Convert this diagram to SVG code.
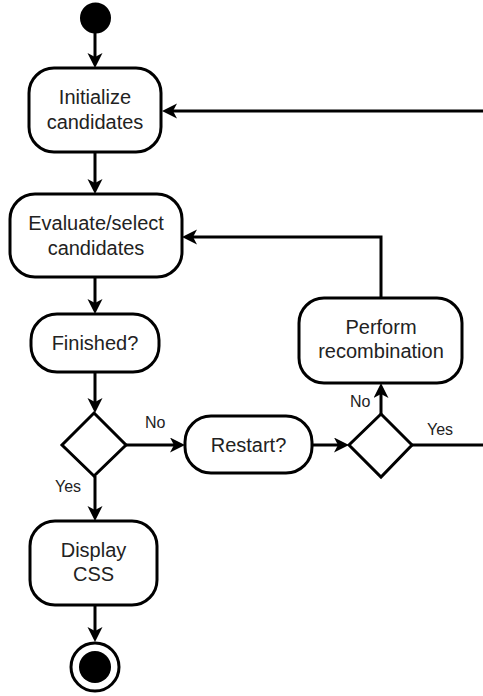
<svg xmlns="http://www.w3.org/2000/svg" width="483" height="696" viewBox="0 0 483 696">
<style>
.node{fill:#fff;stroke:#000;stroke-width:3}
.t{font-family:"Liberation Sans",Arial,sans-serif;font-size:20px;fill:#222;text-anchor:middle}
.lbl{font-family:"Liberation Sans",Arial,sans-serif;font-size:16px;fill:#222}
.edge{fill:none;stroke:#000;stroke-width:3}
.arr{marker-end:url(#ah)}
</style>
<defs>
<marker id="ah" markerUnits="userSpaceOnUse" viewBox="0 0 16 16" markerWidth="16" markerHeight="16" refX="11" refY="7.5" orient="auto">
<path d="M0,0 L15,7.5 L0,15 L4,7.5 z" fill="#000"/>
</marker>
</defs>
<rect width="483" height="696" fill="#fff"/>
<g id="connectors">
<path class="edge arr" d="M95,33 L95,64"/>
<path class="edge arr" d="M95,152 L95,190"/>
<path class="edge arr" d="M95,277 L95,310"/>
<path class="edge arr" d="M95,372 L95,409"/>
<path class="edge arr" d="M126,445 L181,445"/>
<path class="edge arr" d="M312,445 L345,445"/>
<path class="edge arr" d="M381,414 L381,387"/>
<path class="edge arr" d="M381,298 L381,237 L186,237"/>
<path class="edge" d="M412,445 L483,445"/>
<path class="edge arr" d="M483,111 L166,111"/>
<path class="edge arr" d="M95,476 L95,517"/>
<path class="edge arr" d="M95,605 L95,638"/>
</g>
<g id="start"><circle cx="95.5" cy="18" r="15.5" fill="#000"/></g>
<g id="init">
<rect class="node" x="29" y="68" width="132" height="84" rx="25"/>
<text class="t" x="95" y="104">Initialize</text>
<text class="t" x="95" y="129">candidates</text>
</g>
<g id="evaluate">
<rect class="node" x="10" y="194" width="172" height="83" rx="25"/>
<text class="t" x="96" y="230">Evaluate/select</text>
<text class="t" x="96" y="254.5">candidates</text>
</g>
<g id="finished">
<rect class="node" x="31" y="314" width="128" height="58" rx="26"/>
<text class="t" x="95" y="349.5">Finished?</text>
</g>
<g id="decision1"><path class="node" d="M94,413 L126,445 L94,476 L62,445 Z"/></g>
<g id="restart">
<rect class="node" x="185" y="416" width="127" height="57" rx="26"/>
<text class="t" x="248.5" y="451.5">Restart?</text>
</g>
<g id="decision2"><path class="node" d="M381,414 L412,445 L381,477 L349,445 Z"/></g>
<g id="perform">
<rect class="node" x="299" y="298" width="163" height="85" rx="25"/>
<text class="t" x="381" y="333.5">Perform</text>
<text class="t" x="381" y="358">recombination</text>
</g>
<g id="display">
<rect class="node" x="30" y="521" width="127" height="84" rx="25"/>
<text class="t" x="93.5" y="556.5">Display</text>
<text class="t" x="93.5" y="581">CSS</text>
</g>
<g id="end">
<circle cx="95" cy="667" r="24" fill="#fff" stroke="#000" stroke-width="3"/>
<circle cx="95" cy="667" r="16" fill="#000"/>
</g>
<g id="labels">
<text class="lbl" x="145" y="428">No</text>
<text class="lbl" x="55" y="492">Yes</text>
<text class="lbl" x="350" y="407">No</text>
<text class="lbl" x="427" y="435">Yes</text>
</g>
</svg>
